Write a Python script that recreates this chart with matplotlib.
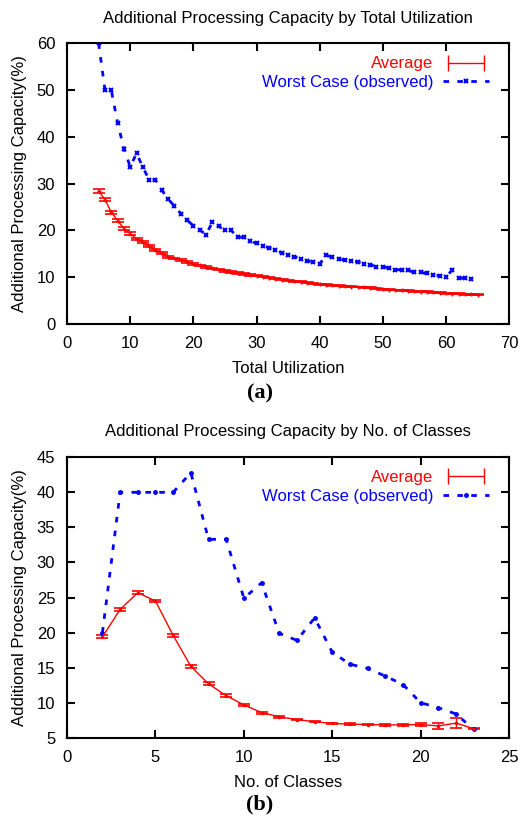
import matplotlib.pyplot as plt
from matplotlib.lines import Line2D
from matplotlib.legend_handler import HandlerLine2D

plt.rcParams['font.family'] = ['Liberation Sans', 'DejaVu Sans']
plt.rcParams['font.size'] = 12

# (a) by total utilization
util_avg = list(range(5, 66))
avg_a = [28.4, 26.6, 23.9, 22.1, 20.4, 19.3, 18.2, 17.5, 16.7, 15.8,
         15.1, 14.4, 14.0, 13.6, 13.2, 12.8, 12.5, 12.2, 11.9, 11.6,
         11.3, 11.1, 10.9, 10.7, 10.5, 10.3, 10.1, 9.9, 9.7, 9.5,
         9.3, 9.15, 9.0, 8.8, 8.65, 8.5, 8.4, 8.3, 8.2, 8.1,
         8.0, 7.9, 7.8, 7.7, 7.6, 7.45, 7.35, 7.25, 7.15, 7.05,
         7.0, 6.9, 6.85, 6.75, 6.65, 6.6, 6.5, 6.45, 6.35, 6.3, 6.25]
err_a = [0.35, 0.35, 0.3, 0.3, 0.3, 0.3, 0.25, 0.25, 0.25, 0.2,
         0.2, 0.2, 0.2, 0.2, 0.2, 0.15, 0.15, 0.15, 0.15, 0.15,
         0.15, 0.15, 0.15, 0.15, 0.15, 0.1, 0.1, 0.1, 0.1, 0.1,
         0.1, 0.1, 0.1, 0.1, 0.1, 0.1, 0.1, 0.1, 0.1, 0.1,
         0.1, 0.1, 0.1, 0.1, 0.1, 0.1, 0.1, 0.1, 0.1, 0.1,
         0.1, 0.1, 0.1, 0.1, 0.1, 0.1, 0.1, 0.1, 0.1, 0.1, 0.1]
util_worst = list(range(5, 65))
worst_a = [60, 50, 50, 43, 37.5, 33.6, 36.5, 33.5, 30.8, 30.8,
           28.6, 26.7, 25.2, 23.6, 22.2, 21.0, 20.1, 19.1, 21.7, 20.9,
           20.0, 20.0, 18.5, 18.5, 17.8, 17.2, 16.7, 16.3, 15.8, 15.2,
           14.7, 14.4, 13.9, 13.5, 13.2, 12.8, 14.7, 14.3, 13.9, 13.7,
           13.5, 13.3, 12.8, 12.7, 12.2, 12.2, 12.0, 11.6, 11.6, 11.5,
           11.0, 11.0, 10.8, 10.5, 10.3, 10.1, 11.5, 9.8, 9.8, 9.7]

# (b) by number of classes
classes = list(range(2, 24))
avg_b = [19.4, 23.3, 25.7, 24.5, 19.6, 15.2, 12.7, 11.0, 9.7, 8.6,
         8.0, 7.6, 7.3, 7.05, 6.95, 6.9, 6.85, 6.85, 6.9, 6.7, 7.1, 6.3]
err_b = [0.2, 0.2, 0.2, 0.2, 0.2, 0.2, 0.2, 0.2, 0.15, 0.15,
         0.15, 0.1, 0.1, 0.1, 0.1, 0.1, 0.1, 0.1, 0.25, 0.4, 0.7, 0.1]
worst_b = [20.0, 40.0, 40.0, 40.0, 40.0, 42.8, 33.3, 33.3, 24.9, 27.1,
           19.9, 18.9, 22.1, 17.2, 15.5, 14.9, 13.8, 12.6, 10.0, 9.3, 8.4, 6.2]

red = '#ff0000'
blue = '#0000ff'

fig = plt.figure(figsize=(5.2, 8.18), dpi=100)
ax1 = fig.add_axes([0.129, 0.604, 0.850, 0.343])
ax2 = fig.add_axes([0.129, 0.098, 0.850, 0.343])


def style(ax):
    for s in ax.spines.values():
        s.set_linewidth(1.5)
    ax.tick_params(direction='in', length=6, width=1.5, top=True, right=True,
                   labelsize=12, pad=8.5)


def add_legend(ax, worst_line):
    avg_proxy = Line2D([], [], color=red, lw=1, marker='|', ms=12, mew=1)
    leg = ax.legend([avg_proxy, worst_line], ['Average', 'Worst Case (observed)'],
                    handler_map={avg_proxy: HandlerLine2D(numpoints=2)},
                    loc='upper right', bbox_to_anchor=(1 - 20 / 442, 1 - 13 / 281),
                    frameon=False, markerfirst=False, handlelength=2.75,
                    handletextpad=0.6, labelspacing=0.2, borderpad=0,
                    borderaxespad=0, fontsize=12)
    for t, c in zip(leg.get_texts(), [red, blue]):
        t.set_color(c)


ax1.errorbar(util_avg, avg_a, yerr=err_a, color=red, lw=1, capsize=4.5,
             capthick=1.2, marker='+', ms=3)
w1, = ax1.plot(util_worst, worst_a, color=blue, lw=2, ls=(0, (2, 3)), marker='x',
               ms=3.5, mew=1.5)
ax1.set_xlim(0, 70)
ax1.set_ylim(0, 60)
ax1.set_xticks(range(0, 71, 10))
ax1.set_yticks(range(0, 61, 10))
ax1.set_title('Additional Processing Capacity by Total Utilization', fontsize=12, pad=15)
ax1.set_xlabel('Total Utilization', fontsize=12, labelpad=7.5)
ax1.set_ylabel('Additional Processing Capacity(%)', fontsize=12, labelpad=7)
style(ax1)
add_legend(ax1, w1)

ax2.errorbar(classes, avg_b, yerr=err_b, color=red, lw=1, capsize=4.5,
             capthick=1.2, marker='.', ms=3)
w2, = ax2.plot(classes, worst_b, color=blue, lw=2, ls=(0, (2, 3)), marker='o',
               ms=2.5)
ax2.set_xlim(0, 25)
ax2.set_ylim(5, 45)
ax2.set_xticks(range(0, 26, 5))
ax2.set_yticks(range(5, 46, 5))
ax2.set_title('Additional Processing Capacity by No. of Classes', fontsize=12, pad=15)
ax2.set_xlabel('No. of Classes', fontsize=12, labelpad=7.5)
ax2.set_ylabel('Additional Processing Capacity(%)', fontsize=12, labelpad=7)
style(ax2)
add_legend(ax2, w2)

fig.text(0.5, 1 - 393 / 818, '(a)', ha='center', va='center', fontsize=16,
         fontweight='bold', family='Liberation Serif')
fig.text(0.5, 1 - 804 / 818, '(b)', ha='center', va='center', fontsize=16,
         fontweight='bold', family='Liberation Serif')

fig.savefig('out.png', dpi=100)
